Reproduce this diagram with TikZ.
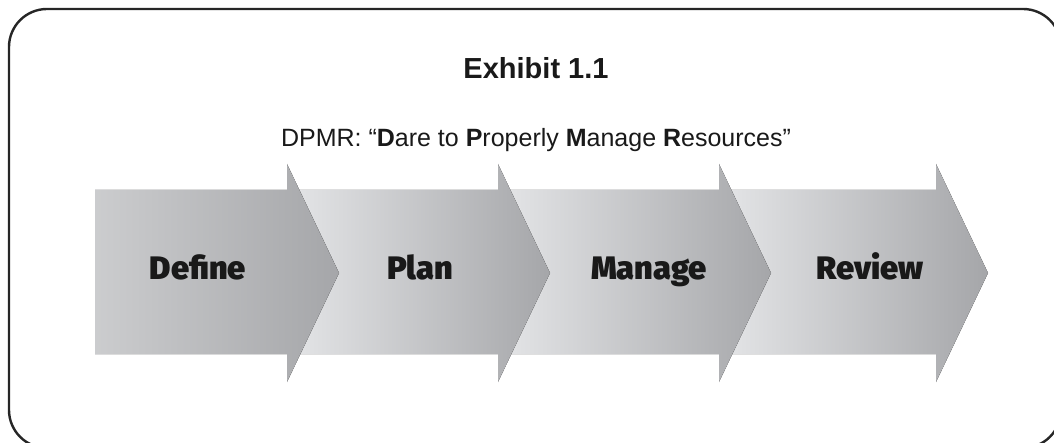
\documentclass[tikz,border=0pt]{standalone}
\usepackage{fontspec}
\setmainfont{Liberation Sans}
\newfontfamily\stagefont{Fira Sans Black}
\usepackage{tikz}
\usetikzlibrary{shapes}

\definecolor{stagelight}{HTML}{E2E3E5}
\definecolor{stagedark}{HTML}{A5A6A9}

\tikzset{
  stage/.style={left color=stagelight, right color=stagedark, draw=none},
  stagelabel/.style={anchor=base, font=\stagefont\fontsize{32.5}{36}\selectfont, text=black!90}
}

\begin{document}
\begin{tikzpicture}[x=1pt, y=-1pt]

  \useasboundingbox (0,0) rectangle (1054,443);

  \newcommand\Top{190};
  \newcommand\Bot{354};
  \newcommand\Len{52};

  %% frame, runs off the page on the right and at the bottom
  \draw[line width=2.4pt, rounded corners=38pt, color=black!85] (9,9) rectangle (1061,448);

  \node[anchor=base, font=\bfseries\fontsize{29}{34}\selectfont, text=black!90] (title) at (536,79) {Exhibit 1.1};
  \node[anchor=base, font=\fontsize{25}{30}\selectfont, text=black!90] (motto) at (536,147)
    {DPMR: “\textbf{D}are to \textbf{P}roperly \textbf{M}anage \textbf{R}esources”};

  %% arrows from right to left so each head lies on the next body
  \fill[stage] (731,\Top) -- (936,\Top) -- (936,164) -- (936+\Len,273) -- (936,382) -- (936,\Bot) -- (731,\Bot) -- cycle; %% Review
  \fill[stage] (510,\Top) -- (719,\Top) -- (719,164) -- (719+\Len,273) -- (719,382) -- (719,\Bot) -- (510,\Bot) -- cycle; %% Manage
  \fill[stage] (299,\Top) -- (498,\Top) -- (498,164) -- (498+\Len,273) -- (498,382) -- (498,\Bot) -- (299,\Bot) -- cycle; %% Plan
  \fill[stage, left color=stagelight!90!black] (95,\Top) -- (287,\Top) -- (287,164) -- (287+\Len,273) -- (287,382) -- (287,\Bot) -- (95,\Bot) -- cycle; %% Define

  \node[stagelabel] (define) at (198,280) {Define};
  \node[stagelabel] (plan) at (420,280) {Plan};
  \node[stagelabel] (manage) at (649,280) {Manage};
  \node[stagelabel] (review) at (870,280) {Review};

\end{tikzpicture}
\end{document}
